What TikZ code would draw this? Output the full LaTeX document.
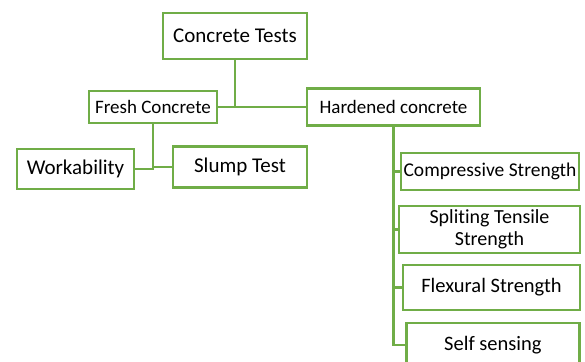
\documentclass[tikz,border=0pt]{standalone}
\usepackage{fontspec}
\setmainfont[Ligatures=NoCommon]{Carlito}
\usepackage{tikz}
\definecolor{boxgreen}{HTML}{70AD47}

\begin{document}
\begin{tikzpicture}[x=1pt,y=-1pt,
  tbox/.style={draw=boxgreen,line width=2.8pt,fill=white,inner sep=0pt,align=center,text=black},
  conn/.style={draw=boxgreen,line width=2.8pt}]
\useasboundingbox (0,0) rectangle (585,361);
\begin{scope}
  \clip (0,0) rectangle (585,361);
  \node[tbox,minimum width=144pt,minimum height=46pt,font=\fontsize{21}{25}\selectfont] (top) at (235,36) {Concrete Tests};
  \node[tbox,minimum width=128pt,minimum height=32pt,font=\fontsize{19}{23}\selectfont] (fresh) at (153,107) {Fresh Concrete};
  \node[tbox,minimum width=173pt,minimum height=37pt,font=\fontsize{19}{23}\selectfont] (hard) at (393.5,107) {Hardened concrete};
  \node[tbox,minimum width=117pt,minimum height=40pt,font=\fontsize{21}{25}\selectfont] (work) at (75.5,169) {Workability};
  \node[tbox,minimum width=134pt,minimum height=41pt,font=\fontsize{21}{25}\selectfont] (slump) at (240,167) {Slump Test};
  \node[tbox,minimum width=178pt,minimum height=37pt,font=\fontsize{19.5}{23}\selectfont] (comp) at (490,171.5) {Compressive Strength};
  \node[tbox,minimum width=181pt,minimum height=47pt,font=\fontsize{20}{22}\selectfont] (split) at (489.5,229.5) {Spliting Tensile\\Strength};
  \node[tbox,minimum width=177pt,minimum height=45pt,font=\fontsize{20.5}{24}\selectfont] (flex) at (491.5,287.5) {Flexural Strength};
  \node[tbox,anchor=west,minimum width=173pt,minimum height=44pt,font=\fontsize{20.5}{24}\selectfont] (sens) at (405,345) {Self sensing};

  % tree links
  \draw[conn] (top.south) -- (top.south |- fresh.east);
  \draw[conn] (fresh.east) -- (hard.west);
  \draw[conn] (fresh.south) |- (work.east);
  \draw[conn] (fresh.south) |- (slump.west);
  \draw[conn] (hard.south) |- (sens.west);
  \foreach \n in {comp,split,flex}
    \draw[conn] (hard.south |- \n.west) -- (\n.west);
\end{scope}
\end{tikzpicture}
\end{document}
